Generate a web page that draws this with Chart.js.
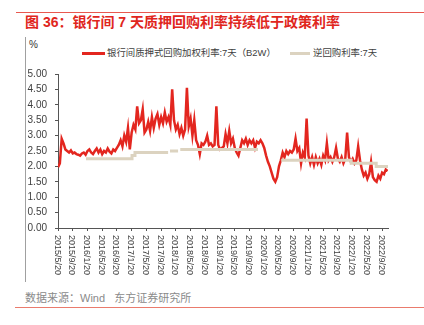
<!DOCTYPE html>
<html>
<head>
<meta charset="utf-8">
<script src="https://cdn.jsdelivr.net/npm/chart.js@4/dist/chart.umd.min.js"></script>
<style>
  body { margin: 0; width: 424px; height: 325px; background: #fff; overflow: hidden; position: relative;
         font-family: "Liberation Sans", Arial, "Noto Sans CJK SC", sans-serif; }
  .abs { position: absolute; }
  #topline { top: 12px; left: 16px; right: 0; height: 1px; background: #e8584f; }
  #title { left: 25px; top: 14px; line-height: 17px; font-size: 14px; font-weight: bold; color: #e0261d; white-space: nowrap; }
  #vline { left: 25px; top: 37px; width: 1px; height: 245px; background: #a0a0a0; }
  #unit { left: 29px; top: 39px; line-height: 12px; font-size: 10px; color: #333; }
  .legline { top: 52px; height: 3px; }
  .legtext { top: 47px; line-height: 12px; font-size: 9.4px; color: #404040; white-space: nowrap; }
  #source { left: 25px; top: 291px; line-height: 14px; font-size: 11px; color: #8a8a8a; white-space: nowrap; }
  #botline { top: 307px; left: 15px; right: 0; height: 1px; background: #ea7b6d; }
  #wrap { left: 0; top: 60px; width: 424px; height: 218px; }
</style>
</head>
<body>
<div id="topline" class="abs"></div>
<div id="title" class="abs">图 36：银行间 7 天质押回购利率持续低于政策利率</div>
<div id="vline" class="abs"></div>
<div id="unit" class="abs">%</div>
<div class="abs legline" style="left:82px;width:23px;background:#e3261f"></div>
<div class="abs legtext" style="left:107px">银行间质押式回购加权利率:7天（B2W）</div>
<div class="abs legline" style="left:290px;width:20px;background:#dcd3c0"></div>
<div class="abs legtext" style="left:313px">逆回购利率:7天</div>
<div id="source" class="abs">数据来源：Wind&nbsp;&nbsp;&nbsp;东方证券研究所</div>
<div id="botline" class="abs"></div>
<div id="wrap" class="abs"><canvas id="chart"></canvas></div>
<script>
// x is months since 2015/5/20
const tickLabels = ['2015/5/20','2015/9/20','2016/1/20','2016/5/20','2016/9/20','2017/1/20','2017/5/20',
  '2017/9/20','2018/1/20','2018/5/20','2018/9/20','2019/1/20','2019/5/20','2019/9/20','2020/1/20',
  '2020/5/20','2020/9/20','2021/1/20','2021/5/20','2021/9/20','2022/1/20','2022/5/20','2022/9/20'];
const tickMonths = [0,4,8,12,16,20,24,28,32,36,40,44,48,52,56,60,64,68,72,76,80,84,88];
const xMax = 89.6;
const redStep = 0.5; // half-month samples

// 银行间质押式回购加权利率:7天（B2W）
const redRate = [
  1.97, 2.1, 2.9, 2.75, 2.55, 2.5, 2.45, 2.52, 2.42, 2.45,
  2.4, 2.38, 2.35, 2.42, 2.45, 2.38, 2.5, 2.55, 2.45, 2.4,
  2.5, 2.58, 2.45, 2.55, 2.4, 2.5, 2.45, 2.58, 2.48, 2.42,
  2.55, 2.5, 2.6, 2.7, 2.85, 2.65, 3.0, 2.8, 3.25, 2.55,
  3.1, 3.35, 3.2, 3.95, 3.4, 3.5, 3.85, 3.1, 3.2, 3.45,
  3.15, 3.6, 3.25, 3.55, 3.7, 3.35, 3.6, 3.4, 3.75, 3.45,
  3.6, 3.35, 4.5, 3.5, 3.2, 3.35, 3.05, 3.25, 3.0, 3.2,
  4.55, 3.3, 3.55, 3.0, 3.5, 2.85, 2.7, 2.4, 2.75, 2.7,
  2.8, 3.0, 2.7, 2.75, 2.65, 2.7, 3.95, 2.7, 2.55, 2.6,
  2.65, 3.05, 2.75, 3.15, 2.75, 2.9, 2.6, 2.45, 2.35, 2.6,
  2.85, 2.75, 2.9, 2.7, 2.85, 2.75, 2.85, 2.6, 2.8, 2.75,
  2.85, 2.75, 2.6, 2.35, 2.15, 2.0, 1.8, 1.6, 1.5, 1.65,
  2.0, 2.2, 2.45, 2.3, 2.5, 2.4, 2.5, 2.45, 2.55, 2.9,
  2.5, 2.6, 2.1, 2.45, 2.3, 3.55, 2.35, 2.1, 2.3, 2.05,
  2.3, 2.1, 2.25, 2.05, 2.35, 2.2, 2.75, 2.2, 2.3, 2.15,
  2.3, 2.6, 2.25, 2.15, 2.3, 2.1, 2.25, 3.1, 2.3, 2.15,
  2.25, 2.1, 2.2, 2.65, 2.2, 1.9, 1.7, 1.8, 1.6, 1.75,
  2.15, 1.65, 1.55, 1.5, 1.7, 1.6, 1.8, 1.75, 1.9, 1.85
];

// 逆回购利率:7天, step segments
const repoFrom = [7.6, 20.1, 20.9, 30.4, 33.2, 60.6, 79.6, 86.4];
const repoTo   = [20.1, 20.9, 29.9, 32.6, 54.3, 79.6, 86.4, 89.6];
const repoRate = [2.25, 2.35, 2.45, 2.50, 2.55, 2.20, 2.10, 2.00];

const redPoints = redRate.map((v, i) => ({ x: i * redStep, y: v }));
const repoPoints = [];
repoRate.forEach((r, i) => {
  repoPoints.push({ x: repoFrom[i], y: r }, { x: repoTo[i], y: r });
  if (i < repoRate.length - 1 && repoFrom[i + 1] !== repoTo[i]) repoPoints.push({ x: repoTo[i], y: null });
});

const xLabelPlugin = {
  id: 'xLabels',
  afterDraw(chart) {
    const sc = chart.scales.x;
    const c = chart.ctx;
    c.save();
    c.fillStyle = '#404040';
    c.font = '9px "Liberation Sans", Arial, sans-serif';
    c.textAlign = 'left';
    c.textBaseline = 'middle';
    sc.ticks.forEach((t, k) => {
      const px = sc.getPixelForValue(t.value);
      c.save();
      c.translate(px - 1, sc.top + 7);
      c.rotate(Math.PI / 2);
      c.fillText(tickLabels[k], 0, 0);
      c.restore();
    });
    c.restore();
  }
};

const ctx = document.getElementById('chart').getContext('2d');
const chart = new Chart(ctx, {
  type: 'line',
  data: {
    datasets: [{
      label: '银行间质押式回购加权利率:7天（B2W）',
      data: redPoints,
      borderColor: '#e3261f',
      borderWidth: 2.5,
      pointRadius: 0,
      tension: 0,
      order: 2
    }, {
      label: '逆回购利率:7天',
      data: repoPoints,
      borderColor: '#dcd3c0',
      borderWidth: 3,
      pointRadius: 0,
      spanGaps: false,
      order: 1
    }]
  },
  options: {
    responsive: true,
    maintainAspectRatio: false,
    animation: false,
    layout: { padding: { top: 13, right: 36, left: 0, bottom: 0 } },
    plugins: { legend: { display: false }, tooltip: { enabled: false } },
    scales: {
      x: {
        type: 'linear',
        min: 0,
        max: xMax,
        afterBuildTicks: s => { s.ticks = tickMonths.map(v => ({ value: v })); },
        afterFit: s => { s.height = 50; },
        ticks: { display: false },
        grid: { drawOnChartArea: false, drawTicks: true, tickLength: 3, color: '#555' },
        border: { color: '#555' }
      },
      y: {
        min: 0,
        max: 5,
        afterFit: s => { s.width = 58; },
        ticks: {
          stepSize: 0.5,
          padding: 8,
          color: '#404040',
          font: { size: 10, family: '"Liberation Sans", Arial, sans-serif' },
          callback: v => v.toFixed(2)
        },
        grid: { drawOnChartArea: false, drawTicks: true, tickLength: 3, color: '#555' },
        border: { color: '#555' }
      }
    }
  },
  plugins: [xLabelPlugin]
});
</script>
</body>
</html>
